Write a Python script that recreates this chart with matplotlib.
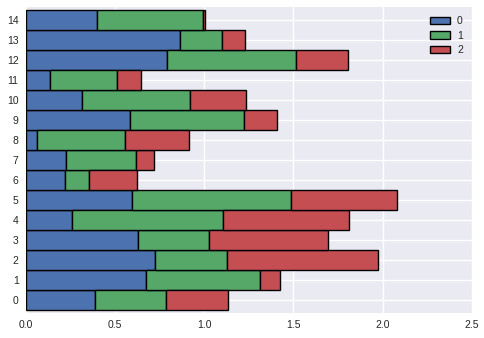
import matplotlib.pyplot as plt
import numpy as np

# values, one list per stacked series
categories = list(range(15))
s0 = [0.390, 0.676, 0.726, 0.631, 0.262, 0.598, 0.222, 0.228, 0.066, 0.585,
      0.318, 0.138, 0.793, 0.866, 0.402]
s1 = [0.398, 0.638, 0.403, 0.394, 0.845, 0.890, 0.135, 0.392, 0.492, 0.640,
      0.604, 0.375, 0.723, 0.235, 0.590]
s2 = [0.347, 0.112, 0.846, 0.670, 0.706, 0.595, 0.269, 0.101, 0.359, 0.181,
      0.314, 0.135, 0.291, 0.129, 0.011]
series_labels = ["0", "1", "2"]
colors = ["#4C72B0", "#55A868", "#C44E52"]

plt.rcParams["font.family"] = ["Liberation Sans", "DejaVu Sans"]

fig = plt.figure(figsize=(4.85, 3.38), dpi=100)
ax = fig.add_axes([0.0528, 0.074, 0.92, 0.905])
ax.set_facecolor("#EAEAF2")
for sp in ax.spines.values():
    sp.set_visible(False)
ax.grid(True, color="white", linewidth=1.0)
ax.set_axisbelow(True)

left = np.zeros(len(categories))
for vals, lab, col in zip([s0, s1, s2], series_labels, colors):
    ax.barh(categories, vals, height=1.0, left=left, color=col,
            edgecolor="black", linewidth=1.0, label=lab)
    left = left + np.array(vals)

ax.set_xlim(0, 2.5)
ax.set_ylim(-0.65, 14.65)
ax.set_yticks(categories)
ax.set_xticks([0, 0.5, 1.0, 1.5, 2.0, 2.5])
ax.tick_params(length=0, labelsize=7.5, colors="#262626", pad=5)

leg = ax.legend(loc="upper right", frameon=False, fontsize=7.5,
                handlelength=1.9, handleheight=0.7, handletextpad=0.7,
                labelspacing=0.45, borderaxespad=0.45)
for t in leg.get_texts():
    t.set_color("#262626")

fig.savefig("out.png", dpi=100)
